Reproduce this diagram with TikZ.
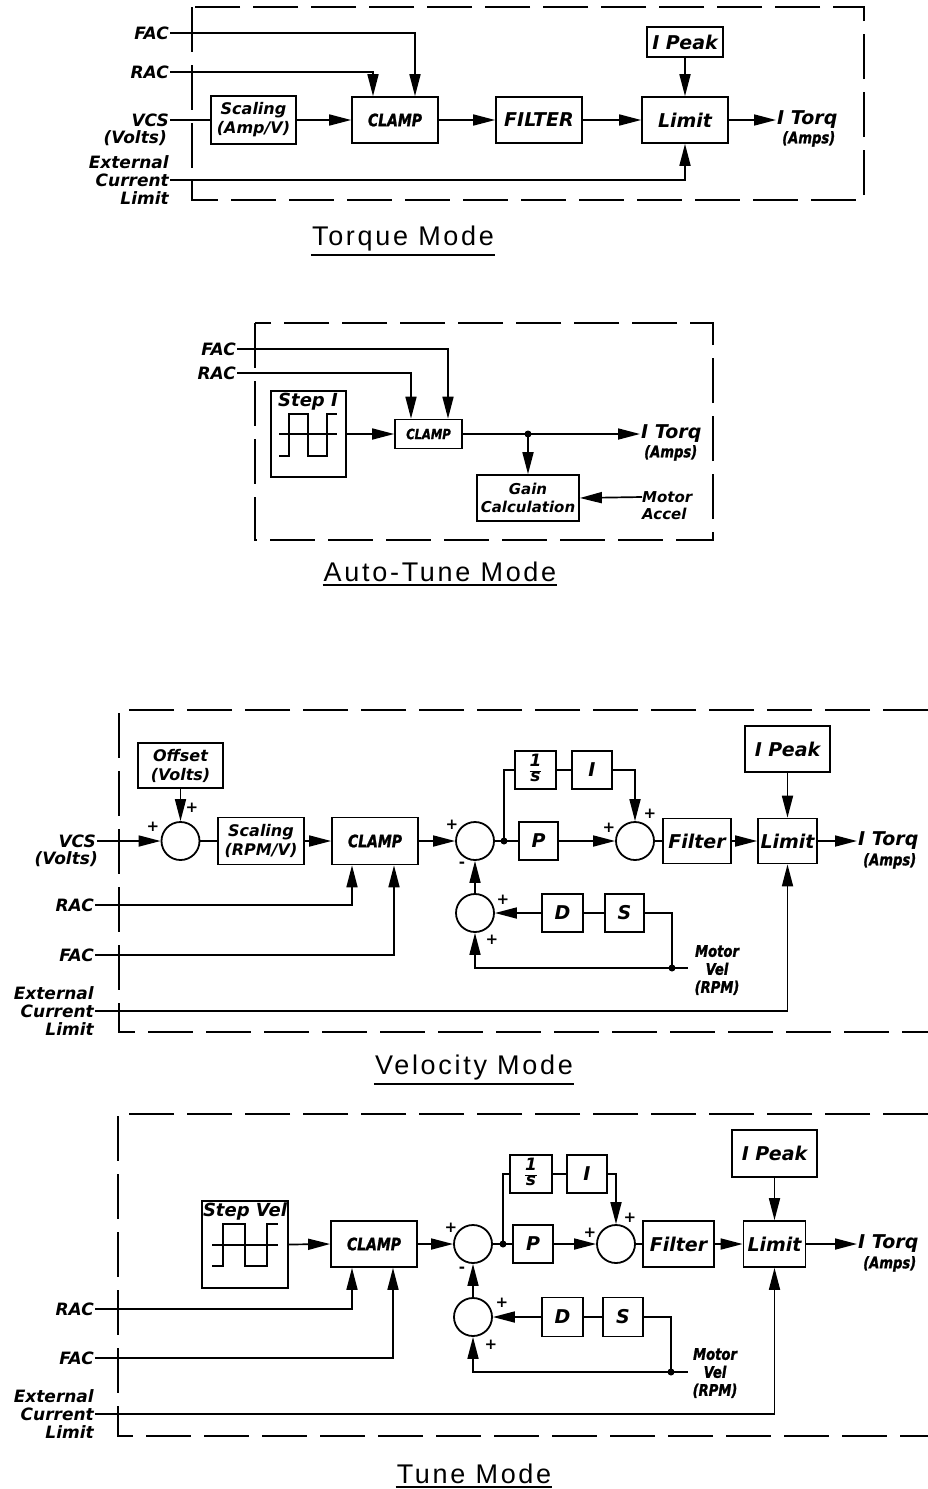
\documentclass[tikz,border=0pt]{standalone}
\usepackage{fontspec}
\setmainfont{DejaVu Sans}
\newfontfamily\titlefont[LetterSpace=10]{Liberation Sans}
\newfontfamily\condfont[FakeStretch=0.82,FakeBold=1.3]{DejaVu Sans}
\usetikzlibrary{arrows.meta}
\newcommand\lbfont{\bfseries\itshape\fontsize{17}{18}\selectfont}
\newcommand\bxfont{\bfseries\itshape\fontsize{19}{20}\selectfont}
\newcommand\itfont{\bfseries\itshape\fontsize{19}{20}\selectfont}
\newcommand\stfont{\bfseries\itshape\fontsize{18}{20}\selectfont}
\newcommand\scfont{\bfseries\itshape\fontsize{16}{19}\selectfont}
\newcommand\mdfont{\bfseries\itshape\fontsize{15}{17}\selectfont}
\newcommand\cdfont{\condfont\bfseries\itshape\fontsize{17}{18}\selectfont}
\newcommand\amfont{\condfont\bfseries\itshape\fontsize{16}{18}\selectfont}
\newcommand\smfont{\condfont\bfseries\itshape\fontsize{14}{15}\selectfont}
\setlength\arrayrulewidth{1.3pt}
\begin{document}
\begin{tikzpicture}[x=1pt,y=-1pt,
  lw/.style={line width=1.7pt},
  blk/.style={draw,line width=1.7pt,inner sep=0pt,font=\bxfont,align=center},
  sum/.style={draw,circle,line width=1.8pt,minimum size=38pt,inner sep=0pt},
  lbl/.style={inner sep=1pt,font=\lbfont},
  arr/.style={-{Triangle[length=22pt,width=11pt]}},
  dbox/.style={line width=2pt,dash pattern=on 45pt off 13pt},
  ttl/.style={font=\titlefont\fontsize{27}{30}\selectfont,inner sep=1pt},
  sgn/.style={font=\bfseries\fontsize{15}{15}\selectfont,inner sep=0pt},
  jdot/.style={circle,fill,inner sep=0pt,minimum size=7pt}
]
\useasboundingbox (0,0) rectangle (928,1489);
\fill[white] (0,0) rectangle (928,1489);

% ================= Torque Mode =================
\draw[dbox] (192,7) rectangle (864,200);
\node[blk,minimum width=85pt,minimum height=48pt,font=\scfont] (scT) at (253.5,120) {Scaling\\(Amp/V)};
\node[blk,minimum width=86pt,minimum height=46pt,font=\cdfont] (clT) at (395,120) {CLAMP};
\node[blk,minimum width=86pt,minimum height=46pt] (fiT) at (539,120) {FILTER};
\node[blk,minimum width=86pt,minimum height=46pt] (liT) at (685,120) {Limit};
\node[blk,minimum width=76pt,minimum height=30pt] (ipT) at (685,42) {I Peak};
\node[lbl,anchor=east] (facT) at (170,33) {FAC};
\node[lbl,anchor=east] (racT) at (170,72) {RAC};
\node[lbl,anchor=east] (vcsT) at (170,120) {VCS};
\node[lbl,anchor=north east] (voT) at (168,129) {(Volts)};
\node[lbl,anchor=east,align=right] (exT) at (170,180) {External\\Current\\Limit};
\node[lbl,anchor=west,font=\itfont] (itT) at (776,120) {I Torq};
\node[lbl,anchor=north west,font=\amfont] (amT) at (781,130) {(Amps)};
\draw[lw] (vcsT.east) -- (scT.west);
\draw[lw,arr] (scT.east) -- (clT.west);
\draw[lw,arr] (clT.east) -- (fiT.west);
\draw[lw,arr] (fiT.east) -- (liT.west);
\draw[lw,arr] (liT.east) -- (itT.west);
\draw[lw,arr] (facT.east) -| ([xshift=20pt]clT.north);
\draw[lw,arr] (racT.east) -| ([xshift=-22pt]clT.north);
\draw[lw,arr] (ipT.south) -- (liT.north);
\draw[lw,arr] (exT.east) -| (liT.south);
\node[ttl] (tT) at (403,239) {Torque Mode};
\draw[line width=1.5pt] ([yshift=-2pt]tT.south west) -- ([yshift=-2pt]tT.south east);

% ================= Auto-Tune Mode =================
\draw[dbox] (255,323) rectangle (713,540);
\node[blk,minimum width=75pt,minimum height=86pt] (stA) at (308.5,434) {};
\node[lbl,font=\stfont] (stAl) at (308,402) {Step I};
\draw[lw] (279,434) -- (337,434);
\draw[lw] (279,456) -- (289,456) -- (289,414) -- (308,414) -- (308,456) -- (327,456) -- (327,414) -- (337,414);
\node[blk,minimum width=67pt,minimum height=29pt,font=\smfont] (clA) at (428.5,434) {CLAMP};
\node[jdot] (jA) at (528,434) {};
\node[lbl,anchor=west,font=\itfont] (itA) at (640,434) {I Torq};
\node[lbl,anchor=north west,font=\amfont] (amA) at (643,444) {(Amps)};
\node[blk,minimum width=102pt,minimum height=46pt,font=\mdfont] (gaA) at (528,498) {Gain\\[1pt]Calculation};
\node[lbl,anchor=west,align=left,font=\mdfont] (moA) at (641,506) {Motor\\Accel};
\coordinate (maA) at (642,497);
\node[lbl,anchor=east] (facA) at (237,349) {FAC};
\node[lbl,anchor=east] (racA) at (237,373) {RAC};
\draw[lw,arr] (stA.east) -- (clA.west);
\draw[lw,arr] (clA.east) -- (itA.west);
\draw[lw,arr] (jA.center) -- (gaA.north);
\draw[lw,arr] (maA) -- (gaA.east);
\draw[lw,arr] (facA.east) -| ([xshift=19.5pt]clA.north);
\draw[lw,arr] (racA.east) -| ([xshift=-17.5pt]clA.north);
\node[ttl] (tA) at (440,572) {Auto-Tune Mode};
\draw[line width=1.5pt] ([yshift=-2pt]tA.south west) -- ([yshift=-2pt]tA.south east);

% ================= Velocity Mode =================
\draw[dbox] (928,710) -- (119,710) -- (119,1032) -- (928,1032);
\node[blk,minimum width=85pt,minimum height=45pt,font=\scfont] (ofV) at (180.5,765.5) {Offset\\(Volts)};
\node[sum] (s1V) at (180.5,841) {};
\node[blk,minimum width=86pt,minimum height=47pt,font=\scfont] (scV) at (261,841) {Scaling\\(RPM/V)};
\node[blk,minimum width=86pt,minimum height=47pt,font=\cdfont] (clV) at (375,841) {CLAMP};
\node[sum] (s2V) at (475,841) {};
\node[jdot] (jV) at (504,841) {};
\node[blk,minimum width=41pt,minimum height=38pt,font=\lbfont] (isV) at (535.5,770) {\renewcommand\arraystretch{0.8}\begin{tabular}{@{}c@{}}1\\\hline s\end{tabular}};
\node[blk,minimum width=40pt,minimum height=38pt] (iV) at (592,770) {I};
\node[blk,minimum width=39pt,minimum height=38pt] (pV) at (538.5,841) {P};
\node[sum] (s3V) at (635,841) {};
\node[blk,minimum width=68pt,minimum height=45pt] (fiV) at (697,841) {Filter};
\node[blk,minimum width=59pt,minimum height=45pt] (liV) at (787.5,841) {Limit};
\node[blk,minimum width=85pt,minimum height=46pt] (ipV) at (787.5,749) {I Peak};
\node[lbl,anchor=west,font=\itfont] (itV) at (857,841) {I Torq};
\node[lbl,anchor=north west,font=\amfont] (amV) at (862,852) {(Amps)};
\node[sum] (s4V) at (475,913) {};
\node[blk,minimum width=41pt,minimum height=38pt] (dV) at (562.5,913) {D};
\node[blk,minimum width=39pt,minimum height=38pt] (sV) at (624.5,913) {S};
\node[jdot] (mvjV) at (672,968) {};
\coordinate (mvV) at (688,968);
\node[lbl,align=center,font=\amfont] (mlV) at (717,970) {Motor\\Vel\\(RPM)};
\node[lbl,anchor=east] (vcsV) at (97,841) {VCS};
\node[lbl,anchor=north east] (voV) at (99,850) {(Volts)};
\node[lbl,anchor=east] (racV) at (95,905) {RAC};
\node[lbl,anchor=east] (facV) at (95,955) {FAC};
\node[lbl,anchor=east,align=right] (exV) at (95,1011) {External\\Current\\Limit};
\draw[lw,arr] (vcsV.east) -- (s1V.west);
\draw[lw,arr] (ofV.south) -- (s1V.north);
\draw[lw] (s1V.east) -- (scV.west);
\draw[lw,arr] (scV.east) -- (clV.west);
\draw[lw,arr] (clV.east) -- (s2V.west);
\draw[lw] (s2V.east) -- (pV.west);
\draw[lw] (jV.center) |- (isV.west);
\draw[lw] (isV.east) -- (iV.west);
\draw[lw,arr] (iV.east) -| (s3V.north);
\draw[lw,arr] (pV.east) -- (s3V.west);
\draw[lw] (s3V.east) -- (fiV.west);
\draw[lw,arr] (fiV.east) -- (liV.west);
\draw[lw,arr] (ipV.south) -- (liV.north);
\draw[lw,arr] (liV.east) -- (itV.west);
\draw[lw,arr] (exV.east) -| (liV.south);
\draw[lw,arr] (racV.east) -| ([xshift=-23pt]clV.south);
\draw[lw,arr] (facV.east) -| ([xshift=19pt]clV.south);
\draw[lw,arr] (s4V.north) -- (s2V.south);
\draw[lw,arr] (dV.west) -- (s4V.east);
\draw[lw] (dV.east) -- (sV.west);
\draw[lw] (sV.east) -| (mvjV.center);
\draw[lw] (mvjV.center) -- (mvV);
\draw[lw,arr] (mvjV.center) -| (s4V.south);
\node[sgn] (pa1) at (153,827) {+};
\node[sgn] (pa2) at (192,808) {+};
\node[sgn] (pa3) at (452,825) {+};
\node[sgn] (pa4) at (462,865) {-};
\node[sgn] (pa5) at (609,828) {+};
\node[sgn] (pa6) at (650,814) {+};
\node[sgn] (pa7) at (503,900) {+};
\node[sgn] (pa8) at (492,940) {+};
\node[ttl] (tV) at (474,1068) {Velocity Mode};
\draw[line width=1.5pt] ([yshift=-2pt]tV.south west) -- ([yshift=-2pt]tV.south east);

% ================= Tune Mode =================
\draw[dbox] (928,1114) -- (118,1114) -- (118,1436) -- (928,1436);
\node[blk,minimum width=86pt,minimum height=87pt] (stU) at (245,1244.5) {};
\node[lbl,font=\stfont] (stUl) at (245,1212) {Step Vel};
\draw[lw] (212,1245) -- (278,1245);
\draw[lw] (212,1266) -- (223,1266) -- (223,1224) -- (245,1224) -- (245,1266) -- (267,1266) -- (267,1224) -- (278,1224);
\node[blk,minimum width=86pt,minimum height=46pt,font=\cdfont] (clU) at (374,1244) {CLAMP};
\node[sum] (s2U) at (473,1244) {};
\node[jdot] (jU) at (503,1244) {};
\node[blk,minimum width=42pt,minimum height=38pt,font=\lbfont] (isU) at (531,1174) {\renewcommand\arraystretch{0.8}\begin{tabular}{@{}c@{}}1\\\hline s\end{tabular}};
\node[blk,minimum width=40pt,minimum height=38pt] (iU) at (587,1174) {I};
\node[blk,minimum width=40pt,minimum height=38pt] (pU) at (533,1244) {P};
\node[sum] (s3U) at (616,1244) {};
\node[blk,minimum width=71pt,minimum height=46pt] (fiU) at (678.5,1244) {Filter};
\node[blk,minimum width=62pt,minimum height=46pt] (liU) at (774.5,1244) {Limit};
\node[blk,minimum width=85pt,minimum height=47pt] (ipU) at (774.5,1153.5) {I Peak};
\node[lbl,anchor=west,font=\itfont] (itU) at (857,1244) {I Torq};
\node[lbl,anchor=north west,font=\amfont] (amU) at (862,1255) {(Amps)};
\node[sum] (s4U) at (473,1317) {};
\node[blk,minimum width=41pt,minimum height=39pt] (dU) at (562.5,1317) {D};
\node[blk,minimum width=40pt,minimum height=39pt] (sU) at (623,1317) {S};
\node[jdot] (mvjU) at (671,1372) {};
\coordinate (mvU) at (688,1372);
\node[lbl,align=center,font=\amfont] (mlU) at (715,1373) {Motor\\Vel\\(RPM)};
\node[lbl,anchor=east] (racU) at (95,1309) {RAC};
\node[lbl,anchor=east] (facU) at (95,1358) {FAC};
\node[lbl,anchor=east,align=right] (exU) at (95,1414) {External\\Current\\Limit};
\draw[lw,arr] (stU.east) -- (clU.west);
\draw[lw,arr] (clU.east) -- (s2U.west);
\draw[lw] (s2U.east) -- (pU.west);
\draw[lw] (jU.center) |- (isU.west);
\draw[lw] (isU.east) -- (iU.west);
\draw[lw,arr] (iU.east) -| (s3U.north);
\draw[lw,arr] (pU.east) -- (s3U.west);
\draw[lw] (s3U.east) -- (fiU.west);
\draw[lw,arr] (fiU.east) -- (liU.west);
\draw[lw,arr] (ipU.south) -- (liU.north);
\draw[lw,arr] (liU.east) -- (itU.west);
\draw[lw,arr] (exU.east) -| (liU.south);
\draw[lw,arr] (racU.east) -| ([xshift=-22pt]clU.south);
\draw[lw,arr] (facU.east) -| ([xshift=19pt]clU.south);
\draw[lw,arr] (s4U.north) -- (s2U.south);
\draw[lw,arr] (dU.west) -- (s4U.east);
\draw[lw] (dU.east) -- (sU.west);
\draw[lw] (sU.east) -| (mvjU.center);
\draw[lw] (mvjU.center) -- (mvU);
\draw[lw,arr] (mvjU.center) -| (s4U.south);
\node[sgn] (pb3) at (451,1228) {+};
\node[sgn] (pb4) at (462,1270) {-};
\node[sgn] (pb5) at (590,1233) {+};
\node[sgn] (pb6) at (630,1218) {+};
\node[sgn] (pb7) at (502,1303) {+};
\node[sgn] (pb8) at (491,1345) {+};
\node[ttl] (tU) at (474,1474) {Tune Mode};
\draw[line width=1.5pt] ([yshift=-2pt]tU.south west) -- ([yshift=-2pt]tU.south east);
\end{tikzpicture}
\end{document}
